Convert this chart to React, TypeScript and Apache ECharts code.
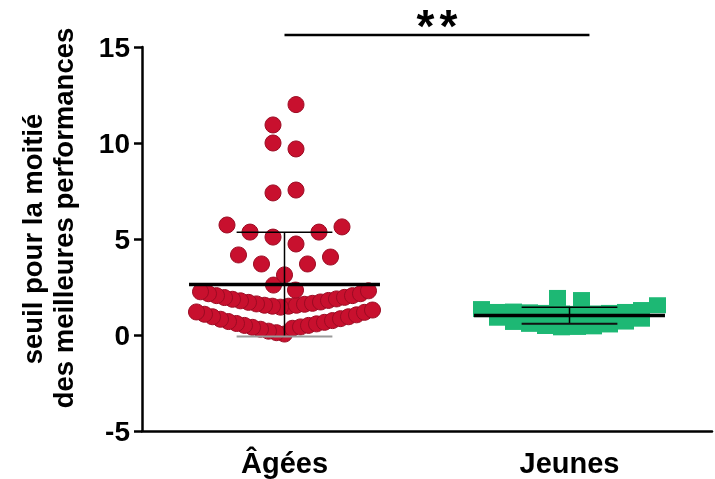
import React, { useEffect, useRef } from "react";
import * as echarts from "echarts";

// ---- data ----
const categories = ["Âgées", "Jeunes"];
const yTicks = [-5, 0, 5, 10, 15];
const yTitle = ["seuil pour la moitié", "des meilleures performances"];
const sigLabel = "**";

// Âgées values, grouped in swarm rows (each row listed centre-out)
const agesRowLowV = [0.05, 0.35, 0.12, 0.42, 0.2, 0.5, 0.3, 0.58, 0.4, 0.66, 0.5, 0.75, 0.6, 0.85, 0.7, 0.95, 0.82, 1.05, 0.95, 1.18, 1.08, 1.3, 1.2];
const agesRowArch = [1.5, 1.45, 1.55, 1.5, 1.6, 1.55, 1.65, 1.62, 1.72, 1.7, 1.8, 1.78, 1.88, 1.86, 1.96, 1.95, 2.05, 2.05, 2.15, 2.15, 2.3, 2.25];
const agesRowPair = [2.34, 2.6];
const agesRowMid = [3.13, 3.7, 3.7, 4.06, 4.17];
const agesRowHigh = [4.74, 5.1, 5.36, 5.36, 5.63, 5.73];
const agesRow7 = [7.55, 7.4];
const agesRow10 = [9.69, 10.0];
const agesRowTop = [12.0, 10.94];

// Jeunes values
const jeunesRowTop = [1.82, 1.93];
const jeunesRowUpper = [1.1, 1.12, 1.12, 1.15, 1.15, 1.18, 1.2, 1.22, 1.3, 1.2, 1.55, 1.35];
const jeunesRowLower = [0.42, 0.4, 0.45, 0.47, 0.55, 0.58, 0.7, 0.68, 0.85, 0.9];

// ---- layout (pixel spacing of each swarm row) ----
const agesRows = [agesRowLowV, agesRowArch, agesRowPair, agesRowMid, agesRowHigh, agesRow7, agesRow10, agesRowTop];
const agesSpacing = [8, 8, 22, 23, 23, 23, 23, 23];
const jeunesRows = [jeunesRowTop, jeunesRowUpper, jeunesRowLower];
const jeunesSpacing = [24, 16, 16];

const FONT = "'Liberation Sans', Arial, Helvetica, sans-serif";

function rowOffsets(n: number, spacing: number): number[] {
  const out: number[] = [];
  for (let i = 0; i < n; i++) {
    if (n % 2 === 1) {
      if (i === 0) out.push(0);
      else {
        const k = Math.ceil(i / 2);
        out.push((i % 2 === 1 ? 1 : -1) * k * spacing);
      }
    } else {
      const k = Math.floor(i / 2) + 0.5;
      out.push((i % 2 === 0 ? 1 : -1) * k * spacing);
    }
  }
  return out;
}

function swarm(cat: number, rows: number[][], spacing: number[]) {
  const items: any[] = [];
  rows.forEach((row, r) => {
    const offs = rowOffsets(row.length, spacing[r]);
    row.forEach((v, i) => {
      items.push({ value: [cat, v], symbolOffset: [offs[i], 0] });
    });
  });
  return items;
}

function stats(rows: number[][]) {
  const vals = rows.flat();
  const n = vals.length;
  const mean = vals.reduce((a, b) => a + b, 0) / n;
  const sd = Math.sqrt(vals.reduce((a, b) => a + (b - mean) * (b - mean), 0) / (n - 1));
  return [mean, sd];
}

export default function App() {
  const ref = useRef<HTMLDivElement>(null);
  useEffect(() => {
    if (!ref.current) return;
    const chart = echarts.init(ref.current, null, { renderer: "svg" });
    const [mA, sA] = stats(agesRows);
    const [mJ, sJ] = stats(jeunesRows);
    const lowCapColors = ["#9a9a9a", "#111"];

    chart.setOption({
      animation: false,
      grid: { left: 142, right: 3, top: 47, bottom: 48 },
      xAxis: {
        type: "category",
        data: categories,
        axisLine: { onZero: false, lineStyle: { color: "#000", width: 2.5 } },
        axisTick: { show: false },
        axisLabel: { color: "#000", fontSize: 29, fontWeight: "bold", fontFamily: FONT, margin: 17 },
      },
      yAxis: {
        type: "value",
        min: yTicks[0],
        max: yTicks[yTicks.length - 1],
        interval: 5,
        axisLine: { show: true, lineStyle: { color: "#000", width: 2.5 } },
        axisTick: { show: true, length: 8, lineStyle: { color: "#000", width: 2.5 } },
        axisLabel: { color: "#000", fontSize: 28, fontWeight: "bold", fontFamily: FONT, margin: 12 },
        splitLine: { show: false },
      },
      graphic: [
        {
          type: "text",
          x: 32,
          y: 239,
          rotation: Math.PI / 2,
          style: {
            text: yTitle[0],
            fill: "#000",
            font: `bold 27.5px ${FONT}`,
            align: "center",
            verticalAlign: "middle",
          },
        },
        {
          type: "text",
          x: 63,
          y: 218,
          rotation: Math.PI / 2,
          style: {
            text: yTitle[1],
            fill: "#000",
            font: `bold 27.5px ${FONT}`,
            align: "center",
            verticalAlign: "middle",
          },
        },
      ],
      series: [
        {
          type: "scatter",
          symbol: "circle",
          symbolSize: 16,
          itemStyle: { color: "#c8102e", borderColor: "#9b0b23", borderWidth: 1, opacity: 1 },
          data: swarm(0, agesRows, agesSpacing),
          z: 2,
        },
        {
          type: "scatter",
          symbol: "rect",
          symbolSize: [17, 16],
          itemStyle: { color: "#1db874", opacity: 1 },
          data: swarm(1, jeunesRows, jeunesSpacing),
          z: 2,
        },
        {
          type: "custom",
          z: 5,
          clip: false,
          data: [
            [0, mA, sA],
            [1, mJ, sJ],
          ],
          renderItem: (params: any, api: any) => {
            const cat = api.value(0);
            const m = api.value(1);
            const s = api.value(2);
            const bw = api.size([1, 0])[0];
            const c = api.coord([cat, m]);
            const t = api.coord([cat, m + s]);
            const b = api.coord([cat, m - s]);
            const mh = bw * 0.335;
            const ch = bw * 0.168;
            return {
              type: "group",
              children: [
                { type: "line", shape: { x1: c[0], y1: t[1], x2: c[0], y2: b[1] }, style: { stroke: "#000", lineWidth: 1.5 } },
                { type: "line", shape: { x1: c[0] - ch, y1: t[1], x2: c[0] + ch, y2: t[1] }, style: { stroke: "#000", lineWidth: 1.5 } },
                { type: "line", shape: { x1: c[0] - ch, y1: b[1], x2: c[0] + ch, y2: b[1] }, style: { stroke: lowCapColors[params.dataIndex], lineWidth: 2 } },
                { type: "line", shape: { x1: c[0] - mh, y1: c[1], x2: c[0] + mh, y2: c[1] }, style: { stroke: "#000", lineWidth: 3.5 } },
              ],
            };
          },
        },
        {
          type: "custom",
          z: 5,
          clip: false,
          data: [[0, 1]],
          renderItem: (params: any, api: any) => {
            const bw = api.size([1, 0])[0];
            const p0 = api.coord([api.value(0), 15]);
            const p1 = api.coord([api.value(1), 15]);
            const y = p0[1] - 12;
            const x1 = p0[0];
            const x2 = p1[0] + bw * 0.07;
            const cx = (x1 + x2) / 2;
            const chars = sigLabel.split("");
            const gap = 23;
            return {
              type: "group",
              children: [
                { type: "line", shape: { x1, y1: y, x2, y2: y }, style: { stroke: "#000", lineWidth: 2.5 } },
                ...chars.map((ch, i) => ({
                  type: "text",
                  x: cx + (i - (chars.length - 1) / 2) * gap,
                  y: y - 9,
                  style: { text: ch, fill: "#000", font: `bold 46px ${FONT}`, align: "center", verticalAlign: "middle" },
                })),
              ],
            };
          },
        },
      ],
    });
    return () => chart.dispose();
  }, []);
  return <div ref={ref} style={{ position: "fixed", left: 0, top: 0, width: 715, height: 479 }} />;
}
